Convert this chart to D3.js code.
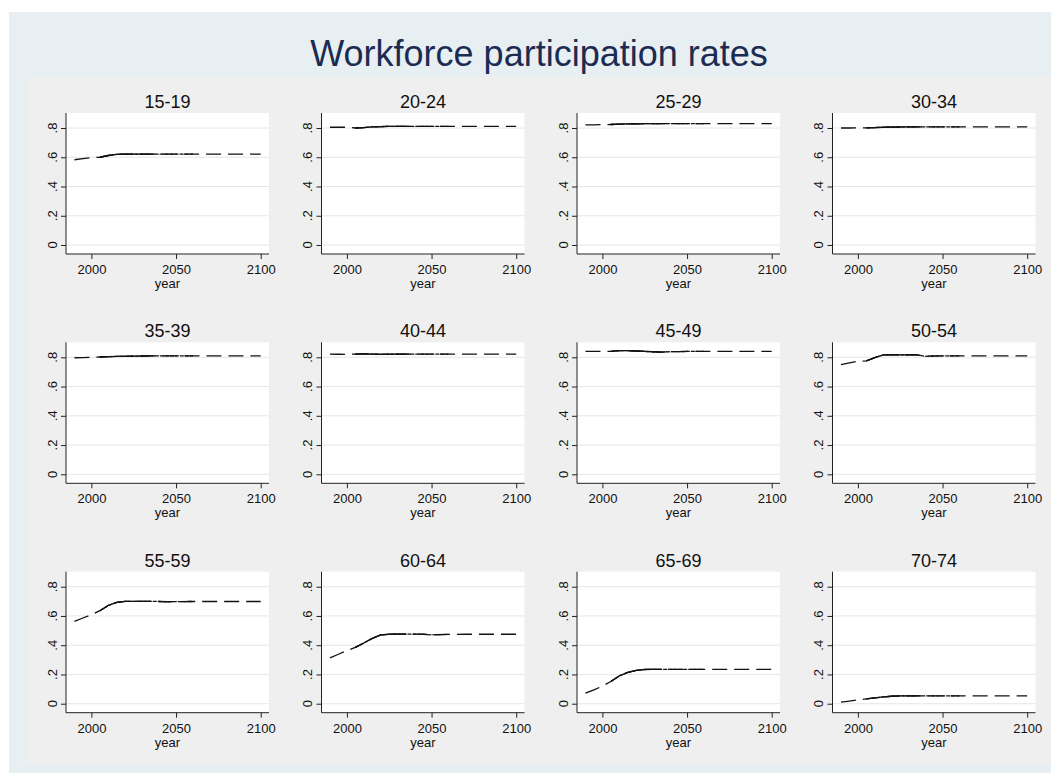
<!DOCTYPE html>
<html>
<head>
<meta charset="utf-8">
<script src="https://cdn.jsdelivr.net/npm/d3@7"></script>
<style>
  html, body { margin: 0; padding: 0; background: #ffffff; }
  svg { display: block; font-family: "Liberation Sans", Arial, sans-serif; }
</style>
</head>
<body>
<svg id="chart" width="1051" height="773"></svg>
<script>
// ---- data ----
const chartTitle = "Workforce participation rates";
const groups = ["15-19","20-24","25-29","30-34","35-39","40-44","45-49","50-54","55-59","60-64","65-69","70-74"];
const years = [1990,1995,2000,2005,2010,2015,2020,2025,2030,2035,2040,2045,2050,2060,2070,2080,2090,2100];

const rate15_19 = [.583,.590,.597,.600,.612,.620,.622,.622,.622,.622,.622,.622,.622,.622,.622,.622,.622,.622];
const rate20_24 = [.805,.806,.805,.800,.803,.808,.810,.811,.811,.811,.811,.811,.811,.811,.811,.811,.811,.811];
const rate25_29 = [.822,.822,.823,.824,.826,.828,.829,.830,.830,.830,.830,.830,.830,.830,.830,.830,.830,.830];
const rate30_34 = [.800,.800,.801,.801,.803,.805,.806,.807,.808,.808,.808,.808,.808,.808,.808,.808,.808,.808];
const rate35_39 = [.797,.798,.800,.802,.804,.806,.807,.808,.809,.810,.810,.810,.810,.810,.810,.810,.810,.810];
const rate40_44 = [.822,.821,.820,.822,.824,.822,.820,.821,.822,.822,.822,.822,.822,.822,.822,.822,.822,.822];
const rate45_49 = [.840,.840,.840,.841,.846,.845,.843,.840,.838,.836,.838,.839,.840,.840,.840,.840,.840,.840];
const rate50_54 = [.750,.762,.773,.775,.798,.816,.816,.816,.816,.816,.807,.809,.810,.810,.810,.810,.810,.810];
const rate55_59 = [.563,.586,.609,.636,.672,.693,.700,.700,.700,.700,.699,.697,.698,.699,.699,.699,.699,.699];
const rate60_64 = [.314,.338,.363,.385,.415,.447,.470,.475,.476,.476,.476,.475,.471,.474,.475,.475,.475,.475];
const rate65_69 = [.072,.095,.120,.152,.190,.214,.228,.234,.235,.235,.235,.235,.235,.235,.235,.235,.235,.235];
const rate70_74 = [.011,.018,.026,.033,.040,.046,.051,.053,.053,.053,.053,.053,.053,.053,.053,.053,.053,.053];

const seriesByGroup = [rate15_19,rate20_24,rate25_29,rate30_34,rate35_39,rate40_44,
                       rate45_49,rate50_54,rate55_59,rate60_64,rate65_69,rate70_74];

const xTicks = [2000, 2050, 2100];
const yTicks = [0, .2, .4, .6, .8];
const yTickLabels = ["0", ".2", ".4", ".6", ".8"];
const xLabel = "year";

// ---- layout ----
const svg = d3.select("#chart");
svg.append("rect").attr("x", 9).attr("y", 12).attr("width", 1042).attr("height", 761).attr("fill", "#e7eff2");
svg.append("rect").attr("x", 27).attr("y", 77).attr("width", 1024).attr("height", 687).attr("fill", "#efefef");

svg.append("text")
  .attr("x", 539).attr("y", 66)
  .attr("text-anchor", "middle")
  .attr("font-size", 36)
  .attr("fill", "#1c2b52")
  .text(chartTitle);

const plotW = 203, plotH = 141;
const colX = [66, 321.5, 577, 832.5];
const rowY = [113, 342.3, 571.7];

const x = d3.scaleLinear().domain([1985, 2104.9]).range([0, plotW]);
const y = d3.scaleLinear().domain([-0.0615, 0.9026]).range([plotH, 0]);

groups.forEach((g, i) => {
  const col = i % 4, row = Math.floor(i / 4);
  const panel = svg.append("g").attr("transform", `translate(${colX[col]},${rowY[row]})`);
  const vals = seriesByGroup[i];
  const pts = years.map((yr, k) => ({ yr, v: vals[k] }));

  panel.append("rect").attr("width", plotW).attr("height", plotH).attr("fill", "#ffffff");

  // gridlines
  panel.selectAll("line.grid").data(yTicks).join("line")
    .attr("class", "grid")
    .attr("x1", 0).attr("x2", plotW)
    .attr("y1", d => y(d)).attr("y2", d => y(d))
    .attr("stroke", "#e6e6e6").attr("stroke-width", 1);

  // y axis
  const yAxis = d3.axisLeft(y).tickValues(yTicks).tickSize(5).tickFormat("");
  const ya = panel.append("g").call(yAxis);
  ya.select(".domain").attr("d", `M0,0V${plotH}`).attr("stroke", "#222");
  ya.selectAll(".tick line").attr("stroke", "#222");
  panel.selectAll("text.ylab").data(yTicks).join("text")
    .attr("class", "ylab")
    .attr("transform", d => `translate(-9.5,${y(d)}) rotate(-90)`)
    .attr("text-anchor", "middle")
    .attr("font-size", 13)
    .attr("fill", "#111")
    .text((d, k) => yTickLabels[k]);

  // x axis
  const xAxis = d3.axisBottom(x).tickValues(xTicks).tickSize(5).tickFormat(d3.format("d"));
  const xa = panel.append("g").attr("transform", `translate(0,${plotH})`).call(xAxis);
  xa.select(".domain").attr("d", `M0,0H${plotW}`).attr("stroke", "#222");
  xa.selectAll(".tick line").attr("stroke", "#222");
  xa.selectAll(".tick text").attr("font-size", 13).attr("font-family", "Liberation Sans, Arial, sans-serif")
    .attr("fill", "#111").attr("dy", null).attr("y", 20);

  panel.append("text")
    .attr("x", plotW / 2).attr("y", plotH + 34)
    .attr("text-anchor", "middle").attr("font-size", 13).attr("fill", "#111")
    .text(xLabel);

  panel.append("text")
    .attr("x", plotW / 2).attr("y", -5)
    .attr("text-anchor", "middle").attr("font-size", 18).attr("fill", "#111")
    .text(g);

  const line = d3.line().x(d => x(d.yr)).y(d => y(d.v));
  // long-dash projection (full range)
  panel.append("path").datum(pts).attr("d", line)
    .attr("fill", "none").attr("stroke", "#111").attr("stroke-width", 1.3)
    .attr("stroke-dasharray", "15,7");
  // short-dash segment
  panel.append("path").datum(pts.filter(d => d.yr >= 2005 && d.yr <= 2060)).attr("d", line)
    .attr("fill", "none").attr("stroke", "#111").attr("stroke-width", 1.3)
    .attr("stroke-dasharray", "4,1");
  // solid segment
  panel.append("path").datum(pts.filter(d => d.yr >= 2005 && d.yr <= 2035)).attr("d", line)
    .attr("fill", "none").attr("stroke", "#111").attr("stroke-width", 1.3);
});
</script>
</body>
</html>
